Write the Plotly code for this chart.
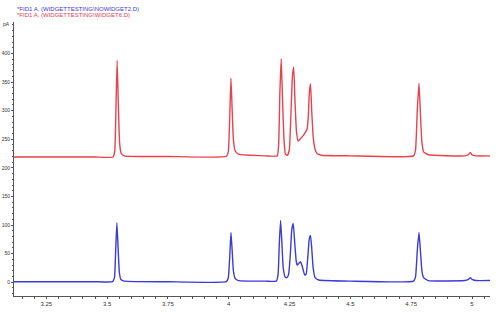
import plotly.graph_objects as go

# Blue trace: *FID1 A, (WIDGETTESTING\NOWIDGET2.D)
blue_x = [3.117, 3.30, 3.45, 3.522, 3.530, 3.535, 3.540, 3.545, 3.550, 3.556, 3.57,
          3.75, 3.99, 3.998, 4.004, 4.009, 4.014, 4.019, 4.026, 4.04,
          4.15, 4.196, 4.203, 4.208, 4.213, 4.218, 4.224, 4.232, 4.239,
          4.246, 4.253, 4.259, 4.265, 4.271, 4.277, 4.281, 4.288, 4.295, 4.302,
          4.312, 4.318, 4.325, 4.331, 4.336, 4.341, 4.347, 4.355, 4.37,
          4.5, 4.76, 4.768, 4.775, 4.782, 4.788, 4.794, 4.801, 4.82,
          4.97, 4.985, 4.993, 5.00, 5.015, 5.074]
blue_y = [1, 1, 1, 1, 8, 55, 104, 60, 18, 5, 2,
          1, 1, 8, 45, 87, 55, 20, 7, 3,
          2, 2, 15, 70, 108, 72, 25, 9, 8,
          14, 48, 92, 103, 70, 38, 30, 33, 36, 28,
          13, 14, 45, 76, 82, 60, 25, 8, 4,
          2, 2, 10, 55, 87, 55, 20, 8, 3,
          3, 5, 8, 5, 3, 3]

# Red trace: *FID1 A, (WIDGETTESTING\WIDGET6.D)
red_x = [3.117, 3.30, 3.45, 3.524, 3.531, 3.536, 3.541, 3.546, 3.551, 3.557, 3.57,
         3.75, 3.99, 3.998, 4.004, 4.009, 4.014, 4.019, 4.026, 4.04,
         4.15, 4.199, 4.205, 4.210, 4.2155, 4.221, 4.227, 4.233, 4.241,
         4.249, 4.256, 4.262, 4.267, 4.272, 4.278, 4.285, 4.295, 4.305, 4.315,
         4.322, 4.327, 4.331, 4.336, 4.341, 4.347, 4.355, 4.363, 4.38,
         4.5, 4.76, 4.768, 4.775, 4.782, 4.788, 4.794, 4.801, 4.82,
         4.97, 4.985, 4.993, 5.00, 5.015, 5.074]
red_y = [219, 219, 219, 219, 228, 300, 388, 310, 245, 226, 221,
         220, 220, 228, 290, 357, 300, 250, 230, 224,
         221, 221, 240, 330, 391, 320, 250, 224, 222,
         232, 300, 362, 376, 320, 265, 247, 251, 256, 262,
         268, 290, 330, 347, 300, 255, 232, 225, 222,
         221, 221, 232, 300, 348, 295, 245, 228, 223,
         221, 223, 227, 223, 221, 221]

x_tickvals = [3.25, 3.5, 3.75, 4, 4.25, 4.5, 4.75, 5]
x_ticktext = ["3.25", "3.5", "3.75", "4", "4.25", "4.5", "4.75", "5"]
y_tickvals = [0, 50, 100, 150, 200, 250, 300, 350, 400]

legend_labels = ["*FID1 A, (WIDGETTESTING\\NOWIDGET2.D)", "*FID1 A, (WIDGETTESTING\\WIDGET6.D)"]
blue = "#3b3bd9"
red = "#e8424e"

fig = go.Figure()
fig.add_trace(go.Scatter(x=red_x, y=red_y, mode="lines", line=dict(color=red, width=1.4, shape="spline", smoothing=0.4),
                         name=legend_labels[1], showlegend=False))
fig.add_trace(go.Scatter(x=blue_x, y=blue_y, mode="lines", line=dict(color=blue, width=1.4, shape="spline", smoothing=0.4),
                         name=legend_labels[0], showlegend=False))

font = dict(family="Liberation Sans, Arial, sans-serif", size=6, color="#333333")
yfont = dict(family="Liberation Sans, Arial, sans-serif", size=5, color="#333333")

fig.update_layout(
    width=500, height=316,
    margin=dict(l=14, r=10, t=22, b=20),
    paper_bgcolor="white", plot_bgcolor="white",
    font=font,
    xaxis=dict(range=[3.117, 5.074], tickvals=x_tickvals, ticktext=x_ticktext, automargin=False,
               showgrid=False, zeroline=False, showline=True, linecolor="#555555", linewidth=1,
               ticks="outside", ticklen=2, tickcolor="#555555", tickfont=font,
               minor=dict(dtick=0.05, ticks="outside", ticklen=2, tickcolor="#555555", showgrid=False)),
    yaxis=dict(range=[-24, 455], tickvals=y_tickvals, automargin=False,
               showgrid=False, zeroline=False, showline=True, linecolor="#555555", linewidth=1,
               ticks="outside", ticklen=2, tickcolor="#555555", tickfont=yfont, ticklabelstandoff=0,
               minor=dict(dtick=10, ticks="outside", ticklen=1, tickcolor="#555555", showgrid=False)),
)

fig.add_annotation(text=legend_labels[0], xref="paper", yref="paper", x=0.003, y=1.0, yshift=13,
                   xanchor="left", yanchor="middle", showarrow=False,
                   font=dict(family="Liberation Sans, Arial, sans-serif", size=6, color=blue))
fig.add_annotation(text=legend_labels[1], xref="paper", yref="paper", x=0.003, y=1.0, yshift=7,
                   xanchor="left", yanchor="middle", showarrow=False,
                   font=dict(family="Liberation Sans, Arial, sans-serif", size=6, color=red))
fig.add_annotation(text="pA", xref="paper", yref="paper", x=0, y=1.0, xshift=-2, yshift=-2,
                   xanchor="right", yanchor="middle", showarrow=False, font=yfont)

fig.write_html("out.html")
